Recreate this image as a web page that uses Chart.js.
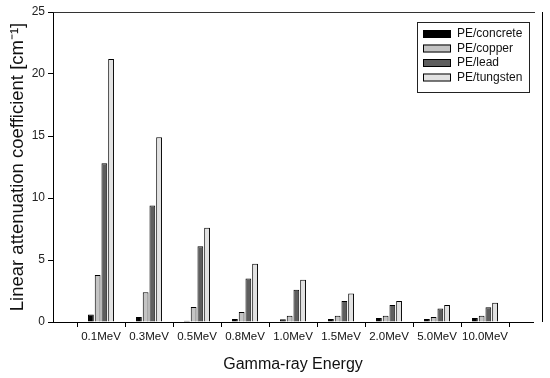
<!DOCTYPE html>
<html>
<head>
<meta charset="utf-8">
<script src="https://cdn.jsdelivr.net/npm/chart.js@4/dist/chart.umd.min.js"></script>
<style>
html,body{margin:0;padding:0;background:#fff;}
#wrap{width:550px;height:378px;}
</style>
</head>
<body>
<div id="wrap"><canvas id="c" width="550" height="378"></canvas></div>
<script>
const categories = ['0.1MeV','0.3MeV','0.5MeV','0.8MeV','1.0MeV','1.5MeV','2.0MeV','5.0MeV','10.0MeV'];
const seriesNames = ['PE/concrete','PE/copper','PE/lead','PE/tungsten'];
const peConcrete = [0.6, 0.4, 0.1, 0.25, 0.22, 0.25, 0.32, 0.25, 0.32];
const peCopper   = [3.8, 2.4, 1.2, 0.8, 0.5, 0.5, 0.5, 0.4, 0.5];
const peLead     = [12.8, 9.4, 6.1, 3.5, 2.6, 1.7, 1.37, 1.08, 1.19];
const peTungsten = [21.2, 14.9, 7.6, 4.7, 3.4, 2.3, 1.7, 1.37, 1.55];
const yTicks = [0, 5, 10, 15, 20, 25];
const colors = ['#000000', '#c4c4c4', '#5e5e5e', '#e2e2e2'];

const allSeries = [peConcrete, peCopper, peLead, peTungsten];
const datasets = allSeries.map((arr, i) => ({
  label: seriesNames[i],
  data: arr.map((v, j) => ({x: j + 1, y: v})),
  backgroundColor: colors[i],
  borderColor: '#000',
  borderWidth: 1,
  borderSkipped: 'bottom',
  categoryPercentage: 0.56,
  barPercentage: 0.86
}));

const framePlugin = {
  id: 'frame',
  afterDraw(chart) {
    const ctx = chart.ctx;
    const a = chart.chartArea;
    ctx.save();
    ctx.strokeStyle = '#333';
    ctx.lineWidth = 1;
    ctx.beginPath();
    ctx.moveTo(a.left + 0.5, a.top + 0.5);
    ctx.lineTo(a.right + 2, a.top + 0.5);
    ctx.stroke();
    ctx.beginPath();
    ctx.strokeStyle = '#000';
    ctx.moveTo(a.right + 9.5, a.top);
    ctx.lineTo(a.right + 9.5, a.bottom);
    ctx.stroke();
    // legend
    const lx = 417, ly = 22, lw = 112, lh = 70;
    ctx.fillStyle = '#fff';
    ctx.fillRect(lx, ly, lw, lh);
    ctx.strokeStyle = '#222';
    ctx.strokeRect(lx + 0.5, ly + 0.5, lw, lh);
    ctx.font = '12px "Liberation Sans", Arial, sans-serif';
    ctx.textBaseline = 'middle';
    chart.data.datasets.forEach((ds, i) => {
      const cy = 34 + i * 14.5;
      ctx.fillStyle = ds.backgroundColor;
      ctx.fillRect(423, cy - 4, 28, 8);
      ctx.strokeStyle = '#000';
      ctx.strokeRect(423.5, cy - 3.5, 27, 7);
      ctx.fillStyle = '#111';
      ctx.fillText(ds.label, 457, cy);
    });
    ctx.restore();
  }
};

new Chart(document.getElementById('c'), {
  type: 'bar',
  data: { datasets },
  plugins: [framePlugin],
  options: {
    responsive: false,
    animation: false,
    layout: { padding: { top: 12, right: 17, left: 0, bottom: 0 } },
    plugins: { legend: { display: false }, tooltip: { enabled: false } },
    scales: {
      x: {
        type: 'linear',
        min: 0, max: 10,
        offset: false,
        grid: { drawOnChartArea: false, color: '#000', tickLength: 5, tickColor: '#000' },
        border: { color: '#000', width: 1 },
        afterBuildTicks(scale) {
          scale.ticks = categories.map((c, i) => ({ value: i + 1 }));
        },
        ticks: {
          autoSkip: false, maxRotation: 0,
          padding: 3,
          color: '#111',
          font: { size: 11.5, family: '"Liberation Sans", Arial, sans-serif' },
          callback: (v) => categories[v - 1] || ''
        },
        title: {
          display: true, text: 'Gamma-ray Energy',
          color: '#111',
          font: { size: 16, family: '"Liberation Sans", Arial, sans-serif' },
          padding: { top: 3 }
        },
        afterFit(scale) { scale.height = 56; }
      },
      y: {
        min: 0, max: 25,
        afterBuildTicks(scale) {
          scale.ticks = yTicks.map(v => ({ value: v }));
        },
        grid: { drawOnChartArea: false, color: '#000', tickLength: 5, tickColor: '#000' },
        border: { color: '#000', width: 1 },
        ticks: {
          padding: 3,
          color: '#222',
          font: { size: 12, family: '"Liberation Sans", Arial, sans-serif' }
        },
        title: {
          display: true, text: 'Linear attenuation coefficient [cm⁻¹]',
          color: '#111',
          font: { size: 18.5, family: '"Liberation Sans", Arial, sans-serif' },
          padding: { top: 7, bottom: 0 }
        },
        afterFit(scale) { scale.width = 53; }
      }
    }
  }
});
</script>
</body>
</html>
